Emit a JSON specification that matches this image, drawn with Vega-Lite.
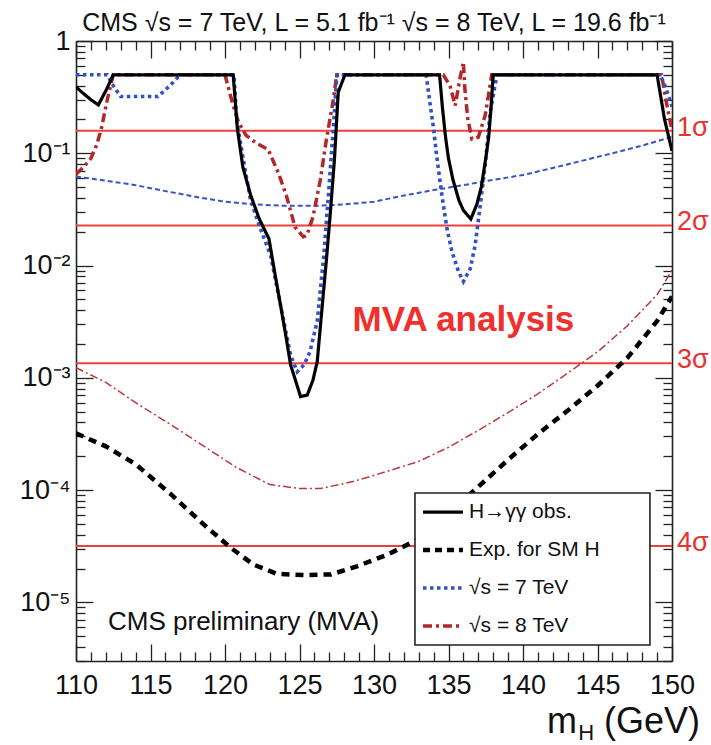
{
  "$schema": "https://vega.github.io/schema/vega-lite/v6.json",
  "width": 596,
  "height": 620,
  "autosize": {"type": "none"},
  "padding": {"left": 76, "top": 41, "right": 39, "bottom": 84},
  "background": "white",
  "config": {"view": {"stroke": null}, "font": "Liberation Sans"},
  "title": {
    "text": "CMS √s = 7 TeV, L = 5.1 fb⁻¹ √s = 8 TeV, L = 19.6 fb⁻¹",
    "font": "Liberation Sans",
    "fontSize": 25,
    "fontWeight": "normal",
    "color": "#111111",
    "anchor": "middle",
    "offset": -9
  },
  "datasets": {
    "sigma": [
      {"p": 0.1587, "label": "1σ"},
      {"p": 0.02275, "label": "2σ"},
      {"p": 0.00135, "label": "3σ"},
      {"p": 0.00003167, "label": "4σ"}
    ],
    "one": [{}],
    "curves": [
      {"s": "exp7", "m": 110, "p": 0.062}, {"s": "exp7", "m": 112, "p": 0.057}, {"s": "exp7", "m": 114, "p": 0.052},
      {"s": "exp7", "m": 116, "p": 0.046}, {"s": "exp7", "m": 118, "p": 0.041}, {"s": "exp7", "m": 120, "p": 0.037},
      {"s": "exp7", "m": 122, "p": 0.035}, {"s": "exp7", "m": 124, "p": 0.034}, {"s": "exp7", "m": 126, "p": 0.034},
      {"s": "exp7", "m": 128, "p": 0.035}, {"s": "exp7", "m": 130, "p": 0.037}, {"s": "exp7", "m": 132, "p": 0.042},
      {"s": "exp7", "m": 134, "p": 0.047}, {"s": "exp7", "m": 136, "p": 0.052}, {"s": "exp7", "m": 138, "p": 0.058},
      {"s": "exp7", "m": 140, "p": 0.064}, {"s": "exp7", "m": 142, "p": 0.074}, {"s": "exp7", "m": 144, "p": 0.086},
      {"s": "exp7", "m": 146, "p": 0.1}, {"s": "exp7", "m": 148, "p": 0.117}, {"s": "exp7", "m": 150, "p": 0.14},

      {"s": "exp8", "m": 110, "p": 0.00123}, {"s": "exp8", "m": 112, "p": 0.00091}, {"s": "exp8", "m": 114, "p": 0.0006},
      {"s": "exp8", "m": 116.4, "p": 0.00038}, {"s": "exp8", "m": 118.6, "p": 0.000245}, {"s": "exp8", "m": 120.8, "p": 0.000158},
      {"s": "exp8", "m": 123, "p": 0.000112}, {"s": "exp8", "m": 125, "p": 0.000103}, {"s": "exp8", "m": 126.4, "p": 0.000103},
      {"s": "exp8", "m": 128.6, "p": 0.000119}, {"s": "exp8", "m": 130.9, "p": 0.000147}, {"s": "exp8", "m": 133, "p": 0.00018},
      {"s": "exp8", "m": 135, "p": 0.00024}, {"s": "exp8", "m": 137, "p": 0.00034}, {"s": "exp8", "m": 139, "p": 0.00049},
      {"s": "exp8", "m": 141, "p": 0.00072}, {"s": "exp8", "m": 143, "p": 0.0011}, {"s": "exp8", "m": 145, "p": 0.0017},
      {"s": "exp8", "m": 147, "p": 0.0029}, {"s": "exp8", "m": 149, "p": 0.0055}, {"s": "exp8", "m": 150, "p": 0.0091},

      {"s": "exp", "m": 110, "p": 0.00032}, {"s": "exp", "m": 112, "p": 0.000245}, {"s": "exp", "m": 114, "p": 0.00017},
      {"s": "exp", "m": 116.4, "p": 0.000091}, {"s": "exp", "m": 118.6, "p": 0.000049}, {"s": "exp", "m": 120.4, "p": 0.0000305},
      {"s": "exp", "m": 121.9, "p": 0.0000217}, {"s": "exp", "m": 123.5, "p": 0.0000179}, {"s": "exp", "m": 125.3, "p": 0.0000175},
      {"s": "exp", "m": 127.1, "p": 0.0000177}, {"s": "exp", "m": 128.9, "p": 0.000021}, {"s": "exp", "m": 130.9, "p": 0.0000266},
      {"s": "exp", "m": 132.8, "p": 0.0000355}, {"s": "exp", "m": 135, "p": 0.000062}, {"s": "exp", "m": 137, "p": 0.000107},
      {"s": "exp", "m": 139, "p": 0.000186}, {"s": "exp", "m": 141, "p": 0.000316}, {"s": "exp", "m": 143, "p": 0.00051},
      {"s": "exp", "m": 145, "p": 0.00085}, {"s": "exp", "m": 147, "p": 0.0015}, {"s": "exp", "m": 149, "p": 0.0032},
      {"s": "exp", "m": 150, "p": 0.0053},

      {"s": "obs8", "m": 110, "p": 0.065}, {"s": "obs8", "m": 110.5, "p": 0.075}, {"s": "obs8", "m": 111, "p": 0.09},
      {"s": "obs8", "m": 111.4, "p": 0.12}, {"s": "obs8", "m": 111.7, "p": 0.165}, {"s": "obs8", "m": 112.1, "p": 0.3},
      {"s": "obs8", "m": 112.5, "p": 0.5}, {"s": "obs8", "m": 120.0, "p": 0.5}, {"s": "obs8", "m": 120.5, "p": 0.28},
      {"s": "obs8", "m": 120.9, "p": 0.19}, {"s": "obs8", "m": 121.4, "p": 0.145}, {"s": "obs8", "m": 122.1, "p": 0.123},
      {"s": "obs8", "m": 122.9, "p": 0.108}, {"s": "obs8", "m": 123.6, "p": 0.066}, {"s": "obs8", "m": 124.14, "p": 0.041},
      {"s": "obs8", "m": 124.7, "p": 0.022}, {"s": "obs8", "m": 125.26, "p": 0.018}, {"s": "obs8", "m": 125.5, "p": 0.0186},
      {"s": "obs8", "m": 125.9, "p": 0.027}, {"s": "obs8", "m": 126.4, "p": 0.058}, {"s": "obs8", "m": 126.8, "p": 0.131},
      {"s": "obs8", "m": 127.27, "p": 0.3}, {"s": "obs8", "m": 127.5, "p": 0.5}, {"s": "obs8", "m": 134.65, "p": 0.5},
      {"s": "obs8", "m": 135.1, "p": 0.4}, {"s": "obs8", "m": 135.45, "p": 0.266}, {"s": "obs8", "m": 135.75, "p": 0.45},
      {"s": "obs8", "m": 136.0, "p": 0.65}, {"s": "obs8", "m": 136.1, "p": 0.37}, {"s": "obs8", "m": 136.3, "p": 0.2},
      {"s": "obs8", "m": 136.57, "p": 0.134}, {"s": "obs8", "m": 137.0, "p": 0.139}, {"s": "obs8", "m": 137.46, "p": 0.217},
      {"s": "obs8", "m": 137.68, "p": 0.326}, {"s": "obs8", "m": 137.9, "p": 0.5}, {"s": "obs8", "m": 149.3, "p": 0.5},
      {"s": "obs8", "m": 149.7, "p": 0.25}, {"s": "obs8", "m": 150, "p": 0.16},

      {"s": "obs7", "m": 110, "p": 0.5}, {"s": "obs7", "m": 112.1, "p": 0.5}, {"s": "obs7", "m": 112.5, "p": 0.4},
      {"s": "obs7", "m": 113.0, "p": 0.32}, {"s": "obs7", "m": 115.5, "p": 0.32}, {"s": "obs7", "m": 116.3, "p": 0.4},
      {"s": "obs7", "m": 117.0, "p": 0.5}, {"s": "obs7", "m": 120.6, "p": 0.5}, {"s": "obs7", "m": 120.8, "p": 0.19},
      {"s": "obs7", "m": 121.3, "p": 0.078}, {"s": "obs7", "m": 121.7, "p": 0.039}, {"s": "obs7", "m": 122.3, "p": 0.0227},
      {"s": "obs7", "m": 123.06, "p": 0.0123}, {"s": "obs7", "m": 123.73, "p": 0.0044}, {"s": "obs7", "m": 124.4, "p": 0.0016},
      {"s": "obs7", "m": 124.85, "p": 0.00113}, {"s": "obs7", "m": 125.3, "p": 0.0013}, {"s": "obs7", "m": 125.7, "p": 0.0017},
      {"s": "obs7", "m": 126.19, "p": 0.0032}, {"s": "obs7", "m": 126.63, "p": 0.0123}, {"s": "obs7", "m": 126.97, "p": 0.048},
      {"s": "obs7", "m": 127.3, "p": 0.19}, {"s": "obs7", "m": 127.5, "p": 0.49}, {"s": "obs7", "m": 127.6, "p": 0.5},
      {"s": "obs7", "m": 133.5, "p": 0.5}, {"s": "obs7", "m": 133.78, "p": 0.266}, {"s": "obs7", "m": 134.0, "p": 0.165},
      {"s": "obs7", "m": 134.2, "p": 0.096}, {"s": "obs7", "m": 134.56, "p": 0.042}, {"s": "obs7", "m": 134.9, "p": 0.0213},
      {"s": "obs7", "m": 135.23, "p": 0.0133}, {"s": "obs7", "m": 135.68, "p": 0.0088}, {"s": "obs7", "m": 136.0, "p": 0.0072},
      {"s": "obs7", "m": 136.46, "p": 0.0094}, {"s": "obs7", "m": 136.79, "p": 0.0152}, {"s": "obs7", "m": 137.13, "p": 0.0343},
      {"s": "obs7", "m": 137.46, "p": 0.078}, {"s": "obs7", "m": 137.8, "p": 0.232}, {"s": "obs7", "m": 138.25, "p": 0.5},
      {"s": "obs7", "m": 149.2, "p": 0.5}, {"s": "obs7", "m": 149.6, "p": 0.38}, {"s": "obs7", "m": 150, "p": 0.26},

      {"s": "obs", "m": 110, "p": 0.39}, {"s": "obs", "m": 110.5, "p": 0.34}, {"s": "obs", "m": 111, "p": 0.3},
      {"s": "obs", "m": 111.5, "p": 0.27}, {"s": "obs", "m": 112, "p": 0.36}, {"s": "obs", "m": 112.5, "p": 0.5},
      {"s": "obs", "m": 120.55, "p": 0.5}, {"s": "obs", "m": 120.83, "p": 0.165}, {"s": "obs", "m": 121.2, "p": 0.075},
      {"s": "obs", "m": 121.72, "p": 0.0424}, {"s": "obs", "m": 122.3, "p": 0.026}, {"s": "obs", "m": 122.95, "p": 0.0173},
      {"s": "obs", "m": 123.35, "p": 0.0085}, {"s": "obs", "m": 123.73, "p": 0.0044}, {"s": "obs", "m": 124.1, "p": 0.0023},
      {"s": "obs", "m": 124.4, "p": 0.00131}, {"s": "obs", "m": 125.07, "p": 0.00068}, {"s": "obs", "m": 125.52, "p": 0.0007},
      {"s": "obs", "m": 125.9, "p": 0.00095}, {"s": "obs", "m": 126.19, "p": 0.00139}, {"s": "obs", "m": 126.5, "p": 0.004},
      {"s": "obs", "m": 126.8, "p": 0.011}, {"s": "obs", "m": 127.05, "p": 0.0272}, {"s": "obs", "m": 127.35, "p": 0.09},
      {"s": "obs", "m": 127.6, "p": 0.35}, {"s": "obs", "m": 128.05, "p": 0.5}, {"s": "obs", "m": 134.4, "p": 0.5},
      {"s": "obs", "m": 134.6, "p": 0.25}, {"s": "obs", "m": 134.8, "p": 0.14}, {"s": "obs", "m": 135.0, "p": 0.09},
      {"s": "obs", "m": 135.3, "p": 0.058}, {"s": "obs", "m": 135.7, "p": 0.038}, {"s": "obs", "m": 136.0, "p": 0.031},
      {"s": "obs", "m": 136.5, "p": 0.026}, {"s": "obs", "m": 136.9, "p": 0.035}, {"s": "obs", "m": 137.2, "p": 0.05},
      {"s": "obs", "m": 137.5, "p": 0.09}, {"s": "obs", "m": 137.7, "p": 0.14}, {"s": "obs", "m": 137.85, "p": 0.25},
      {"s": "obs", "m": 138.0, "p": 0.5}, {"s": "obs", "m": 149.0, "p": 0.5}, {"s": "obs", "m": 149.5, "p": 0.2},
      {"s": "obs", "m": 150, "p": 0.105}
    ]
  },
  "resolve": {"axis": {"x": "independent", "y": "independent"}},
  "layer": [
    {
      "data": {"name": "sigma"},
      "mark": {"type": "rule", "color": "#ef3e3e", "strokeWidth": 2},
      "encoding": {
        "y": {"field": "p", "type": "quantitative", "axis": null,
              "scale": {"type": "log", "domain": [0.000003, 1], "nice": false}}
      }
    },
    {
      "data": {"name": "sigma"},
      "mark": {"type": "text", "align": "left", "baseline": "middle", "dx": 5, "dy": -3,
               "font": "Liberation Sans", "fontSize": 27, "color": "#e8322f"},
      "encoding": {
        "x": {"datum": 150, "type": "quantitative", "axis": null,
              "scale": {"domain": [110, 150], "nice": false, "zero": false}},
        "y": {"field": "p", "type": "quantitative", "axis": null,
              "scale": {"type": "log", "domain": [0.000003, 1], "nice": false}},
        "text": {"field": "label"}
      }
    },
    {
      "data": {"name": "curves"},
      "transform": [{"filter": "datum.s === 'exp7'"}],
      "mark": {"type": "line", "clip": true, "stroke": "#3654c4", "strokeWidth": 2, "strokeDash": [5, 3]},
      "encoding": {
        "x": {"field": "m", "type": "quantitative", "axis": null,
              "scale": {"domain": [110, 150], "nice": false, "zero": false}},
        "y": {"field": "p", "type": "quantitative", "axis": null,
              "scale": {"type": "log", "domain": [0.000003, 1], "nice": false}}
      }
    },
    {
      "data": {"name": "curves"},
      "transform": [{"filter": "datum.s === 'exp8'"}],
      "mark": {"type": "line", "clip": true, "stroke": "#b83a3a", "strokeWidth": 1.5, "strokeDash": [8, 3, 2, 3]},
      "encoding": {
        "x": {"field": "m", "type": "quantitative", "axis": null},
        "y": {"field": "p", "type": "quantitative", "axis": null}
      }
    },
    {
      "data": {"name": "curves"},
      "transform": [{"filter": "datum.s === 'exp'"}],
      "mark": {"type": "line", "clip": true, "stroke": "#000000", "strokeWidth": 4.5, "strokeDash": [8, 6]},
      "encoding": {
        "x": {
          "field": "m", "type": "quantitative",
          "axis": {
            "orient": "top", "labels": false, "grid": false, "title": null,
            "values": [110,111,112,113,114,115,116,117,118,119,120,121,122,123,124,125,126,127,128,129,130,131,132,133,134,135,136,137,138,139,140,141,142,143,144,145,146,147,148,149,150],
            "tickSize": {"condition": {"test": "datum.value % 5 === 0", "value": -17}, "value": -9},
            "tickColor": "#222222", "tickWidth": 1.3, "domainColor": "#222222", "domainWidth": 1.6
          }
        },
        "y": {
          "field": "p", "type": "quantitative",
          "axis": {
            "orient": "right", "labels": false, "grid": false, "title": null,
            "values": [0.000003,0.000004,0.000005,0.000006,0.000007,0.000008,0.000009,0.00001,0.00002,0.00003,0.00004,0.00005,0.00006,0.00007,0.00008,0.00009,0.0001,0.0002,0.0003,0.0004,0.0005,0.0006,0.0007,0.0008,0.0009,0.001,0.002,0.003,0.004,0.005,0.006,0.007,0.008,0.009,0.01,0.02,0.03,0.04,0.05,0.06,0.07,0.08,0.09,0.1,0.2,0.3,0.4,0.5,0.6,0.7,0.8,0.9,1],
            "tickSize": {"condition": {"test": "abs(log(datum.value)/LN10 - round(log(datum.value)/LN10)) < 0.001", "value": -17}, "value": -9},
            "tickColor": "#222222", "tickWidth": 1.3, "domainColor": "#222222", "domainWidth": 1.6
          }
        }
      }
    },
    {
      "data": {"name": "curves"},
      "transform": [{"filter": "datum.s === 'obs8'"}],
      "mark": {"type": "line", "clip": true, "stroke": "#b3262a", "strokeWidth": 3.5, "strokeDash": [9, 4, 3, 4]},
      "encoding": {
        "x": {"field": "m", "type": "quantitative", "axis": null},
        "y": {"field": "p", "type": "quantitative", "axis": null}
      }
    },
    {
      "data": {"name": "curves"},
      "transform": [{"filter": "datum.s === 'obs7'"}],
      "mark": {"type": "line", "clip": true, "stroke": "#3052c8", "strokeWidth": 3.6, "strokeDash": [3.5, 3.5]},
      "encoding": {
        "x": {"field": "m", "type": "quantitative", "axis": null},
        "y": {"field": "p", "type": "quantitative", "axis": null}
      }
    },
    {
      "data": {"name": "curves"},
      "transform": [{"filter": "datum.s === 'obs'"}],
      "mark": {"type": "line", "clip": true, "stroke": "#000000", "strokeWidth": 3.2},
      "encoding": {
        "x": {
          "field": "m", "type": "quantitative",
          "axis": {
            "orient": "bottom", "grid": false, "title": null,
            "values": [110,111,112,113,114,115,116,117,118,119,120,121,122,123,124,125,126,127,128,129,130,131,132,133,134,135,136,137,138,139,140,141,142,143,144,145,146,147,148,149,150],
            "labelExpr": "datum.value % 5 === 0 ? format(datum.value, 'd') : ''",
            "tickSize": {"condition": {"test": "datum.value % 5 === 0", "value": -17}, "value": -9},
            "labelPadding": 28, "labelFont": "Liberation Sans", "labelFontSize": 27, "labelColor": "#111111",
            "labelOverlap": false, "labelFlush": false, "labelBound": false,
            "tickColor": "#222222", "tickWidth": 1.3, "domainColor": "#222222", "domainWidth": 1.6
          }
        },
        "y": {
          "field": "p", "type": "quantitative",
          "axis": {
            "orient": "left", "grid": false, "title": null,
            "values": [0.000003,0.000004,0.000005,0.000006,0.000007,0.000008,0.000009,0.00001,0.00002,0.00003,0.00004,0.00005,0.00006,0.00007,0.00008,0.00009,0.0001,0.0002,0.0003,0.0004,0.0005,0.0006,0.0007,0.0008,0.0009,0.001,0.002,0.003,0.004,0.005,0.006,0.007,0.008,0.009,0.01,0.02,0.03,0.04,0.05,0.06,0.07,0.08,0.09,0.1,0.2,0.3,0.4,0.5,0.6,0.7,0.8,0.9,1],
            "labelExpr": "abs(log(datum.value)/LN10 - round(log(datum.value)/LN10)) < 0.001 ? (round(log(datum.value)/LN10) == 0 ? '1' : '10' + ['⁰','⁻¹','⁻²','⁻³','⁻⁴','⁻⁵','⁻⁶'][-round(log(datum.value)/LN10)]) : ''",
            "tickSize": {"condition": {"test": "abs(log(datum.value)/LN10 - round(log(datum.value)/LN10)) < 0.001", "value": -17}, "value": -9},
            "labelPadding": 23, "labelFont": "Liberation Sans", "labelFontSize": 27, "labelColor": "#111111",
            "labelOverlap": false, "labelFlush": false, "labelBound": false,
            "tickColor": "#222222", "tickWidth": 1.3, "domainColor": "#222222", "domainWidth": 1.6
          }
        }
      }
    },
    {
      "data": {"name": "one"},
      "mark": {"type": "text", "text": "MVA analysis", "align": "center", "baseline": "middle",
               "font": "Liberation Sans", "fontWeight": "bold", "fontSize": 35, "color": "#f0302c"},
      "encoding": {
        "x": {"datum": 136.0, "type": "quantitative", "axis": null},
        "y": {"datum": 0.00327, "type": "quantitative", "axis": null}
      }
    },
    {
      "data": {"name": "one"},
      "mark": {"type": "text", "text": "CMS preliminary (MVA)", "align": "left", "baseline": "middle",
               "font": "Liberation Sans", "fontSize": 26, "color": "#111111"},
      "encoding": {
        "x": {"datum": 112.15, "type": "quantitative", "axis": null},
        "y": {"datum": 0.00000668, "type": "quantitative", "axis": null}
      }
    },
    {
      "data": {"name": "one"},
      "mark": {"type": "rect", "fill": "white", "stroke": "#222222", "strokeWidth": 1.6},
      "encoding": {
        "x": {"datum": 132.75, "type": "quantitative", "axis": null},
        "x2": {"datum": 148.52},
        "y": {"datum": 0.000094, "type": "quantitative", "axis": null},
        "y2": {"datum": 0.00000417}
      }
    },
    {
      "data": {"name": "one"},
      "mark": {"type": "rule", "stroke": "#000000", "strokeWidth": 3.2},
      "encoding": {
        "x": {"datum": 133.29, "type": "quantitative", "axis": null},
        "x2": {"datum": 135.97},
        "y": {"datum": 0.0000637, "type": "quantitative", "axis": null}
      }
    },
    {
      "data": {"name": "one"},
      "mark": {"type": "rule", "stroke": "#000000", "strokeWidth": 4.5, "strokeDash": [7, 5]},
      "encoding": {
        "x": {"datum": 133.29, "type": "quantitative", "axis": null},
        "x2": {"datum": 135.97},
        "y": {"datum": 0.0000292, "type": "quantitative", "axis": null}
      }
    },
    {
      "data": {"name": "one"},
      "mark": {"type": "rule", "stroke": "#3052c8", "strokeWidth": 3.6, "strokeDash": [3.5, 3.5]},
      "encoding": {
        "x": {"datum": 133.29, "type": "quantitative", "axis": null},
        "x2": {"datum": 135.97},
        "y": {"datum": 0.0000134, "type": "quantitative", "axis": null}
      }
    },
    {
      "data": {"name": "one"},
      "mark": {"type": "rule", "stroke": "#b3262a", "strokeWidth": 3.5, "strokeDash": [9, 4, 3, 4]},
      "encoding": {
        "x": {"datum": 133.29, "type": "quantitative", "axis": null},
        "x2": {"datum": 135.97},
        "y": {"datum": 0.00000615, "type": "quantitative", "axis": null}
      }
    },
    {
      "data": {"name": "one"},
      "mark": {"type": "text", "text": "H→γγ obs.", "align": "left", "baseline": "middle",
               "font": "Liberation Sans", "fontSize": 21, "color": "#111111"},
      "encoding": {
        "x": {"datum": 136.38, "type": "quantitative", "axis": null},
        "y": {"datum": 0.0000637, "type": "quantitative", "axis": null}
      }
    },
    {
      "data": {"name": "one"},
      "mark": {"type": "text", "text": "Exp. for SM H", "align": "left", "baseline": "middle",
               "font": "Liberation Sans", "fontSize": 21, "color": "#111111"},
      "encoding": {
        "x": {"datum": 136.38, "type": "quantitative", "axis": null},
        "y": {"datum": 0.0000292, "type": "quantitative", "axis": null}
      }
    },
    {
      "data": {"name": "one"},
      "mark": {"type": "text", "text": "√s = 7 TeV", "align": "left", "baseline": "middle",
               "font": "Liberation Sans", "fontSize": 21, "color": "#111111"},
      "encoding": {
        "x": {"datum": 136.38, "type": "quantitative", "axis": null},
        "y": {"datum": 0.0000134, "type": "quantitative", "axis": null}
      }
    },
    {
      "data": {"name": "one"},
      "mark": {"type": "text", "text": "√s = 8 TeV", "align": "left", "baseline": "middle",
               "font": "Liberation Sans", "fontSize": 21, "color": "#111111"},
      "encoding": {
        "x": {"datum": 136.38, "type": "quantitative", "axis": null},
        "y": {"datum": 0.00000615, "type": "quantitative", "axis": null}
      }
    },
    {
      "data": {"name": "one"},
      "mark": {"type": "text", "text": "m", "align": "right", "baseline": "middle",
               "font": "Liberation Sans", "fontSize": 36, "color": "#111111"},
      "encoding": {
        "x": {"datum": 143.62, "type": "quantitative", "axis": null},
        "y": {"datum": 0.000000859, "type": "quantitative", "axis": null}
      }
    },
    {
      "data": {"name": "one"},
      "mark": {"type": "text", "text": "H", "align": "right", "baseline": "middle",
               "font": "Liberation Sans", "fontSize": 22, "color": "#111111"},
      "encoding": {
        "x": {"datum": 144.77, "type": "quantitative", "axis": null},
        "y": {"datum": 0.000000685, "type": "quantitative", "axis": null}
      }
    },
    {
      "data": {"name": "one"},
      "mark": {"type": "text", "text": "(GeV)", "align": "right", "baseline": "middle",
               "font": "Liberation Sans", "fontSize": 36, "color": "#111111"},
      "encoding": {
        "x": {"datum": 151.88, "type": "quantitative", "axis": null},
        "y": {"datum": 0.000000859, "type": "quantitative", "axis": null}
      }
    }
  ]
}
